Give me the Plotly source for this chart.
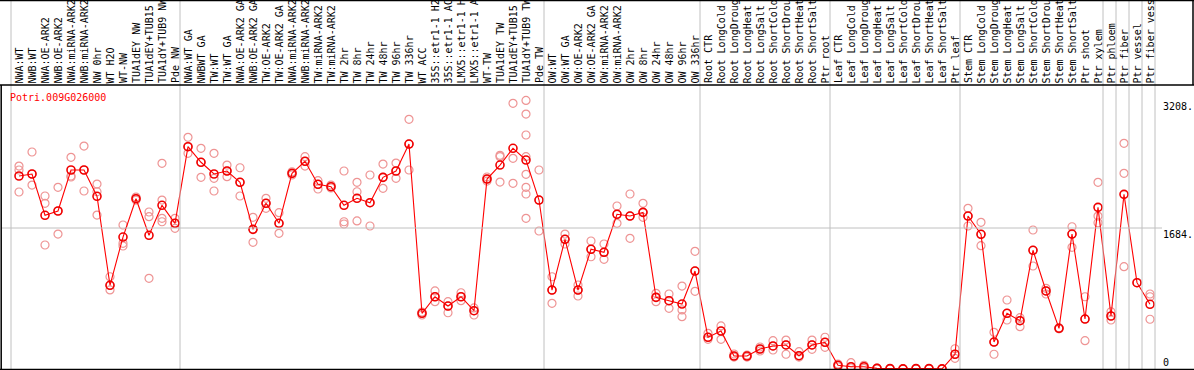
import plotly.graph_objects as go

gene = "Potri.009G026000"

labels = [
    "NWA:WT", "NWB:WT", "NWA:OE-ARK2", "NWB:OE-ARK2", "NWA:miRNA-ARK2", "NWB:miRNA-ARK2",
    "NW 0hr", "WT H2O", "WT-NW", "TUA1dEY NW", "TUA1dEY+TUB15 NW", "TUA1dY+TUB9 NW", "Pde NW",
    "NWA:WT GA", "NWBWT GA", "TW:WT", "TW:WT GA", "NWA:OE-ARK2 GA", "NWB:OE-ARK2 GA",
    "TW:OE-ARK2", "TW:OE-ARK2 GA", "NWA:miRNA-ARK2", "NWB:miRNA-ARK2", "TW:miRNA-ARK2",
    "TW:miRNA-ARK2", "TW 2hr", "TW 8hr", "TW 24hr", "TW 48hr", "TW 96hr", "TW 336hr", "WT ACC",
    "35S::etr1-1 H2O", "35S::etr1-1 ACC", "LMX5::etr1-1 H2O", "LMX5::etr1-1 ACC", "WT-TW",
    "TUA1dEY TW", "TUA1dEY+TUB15 TW", "TUA1dY+TUB9 TW", "Pde TW",
    "OW:WT", "OW:WT GA", "OW:OE-ARK2", "OW:OE-ARK2 GA", "OW:miRNA-ARK2", "OW:miRNA-ARK2",
    "OW 2hr", "OW 8hr", "OW 24hr", "OW 48hr", "OW 96hr", "OW 336hr",
    "Root CTR", "Root LongCold", "Root LongDrought", "Root LongHeat", "Root LongSalt",
    "Root ShortCold", "Root ShortDrought", "Root ShortHeat", "Root ShortSalt", "Ptr root",
    "Leaf CTR", "Leaf LongCold", "Leaf LongDrought", "Leaf LongHeat", "Leaf LongSalt",
    "Leaf ShortCold", "Leaf ShortDrought", "Leaf ShortHeat", "Leaf ShortSalt", "Ptr leaf",
    "Stem CTR", "Stem LongCold", "Stem LongDrought", "Stem LongHeat", "Stem LongSalt",
    "Stem ShortCold", "Stem ShortDrought", "Stem ShortHeat", "Stem ShortSalt", "Ptr shoot",
    "Ptr xylem", "Ptr phloem", "Ptr fiber", "Ptr vessel", "Ptr fiber vessel",
]
label_max_chars = 14  # the header only has room for this many characters

means = [
    2305, 2329, 1836, 1887, 2377, 2377, 2063, 1000, 1576, 2034, 1597, 1955, 1740,
    2655, 2469, 2329, 2365, 2230, 1668, 1979, 1740, 2337, 2481, 2206, 2177, 1955, 2039,
    1986, 2289, 2365, 2687, 665, 863, 752, 863, 696, 2269, 2436, 2636, 2496, 2018,
    943, 1549, 943, 1430, 1394, 1848, 1827, 1871, 856, 816, 776, 1170,
    379, 454, 155, 155, 239, 275, 287, 159, 287, 319,
    44, 27, 27, 8, 4, 1, 4, 4, 1, 176,
    1827, 1609, 322, 665, 577, 1418, 932, 486, 1612, 597,
    1931, 633, 2086, 1031, 773,
]

replicates = [
    [2424, 2377, 2114], [2592, 2329, 2197], [2066, 1979, 1481], [2170, 1887, 1612],
    [2528, 2305, 2293], [2663, 2377, 2126], [2209, 2117, 1839], [1102, 1000, 944],
    [1720, 1501, 1469], [2054, 2034, 2018], [1875, 1819, 1083], [2457, 2018, 1800, 1759],
    [1800, 1740, 1680],
    [2767, 2655, 2576], [2636, 2469, 2289], [2576, 2278, 2126], [2436, 2365, 2297],
    [2404, 2230, 2066], [1812, 1668, 1513], [2039, 1979, 1919], [1867, 1740, 1621],
    [2356, 2337, 2317], [2536, 2481, 2424], [2249, 2206, 2150], [2197, 2177, 2162],
    [2365, 1759, 1732], [2230, 2117, 1768], [2317, 1986, 1708], [2448, 2289, 2158],
    [2460, 2365, 2278], [2982, 2687, 2377], [681, 665, 645], [932, 863, 804],
    [804, 752, 672], [911, 863, 816], [729, 696, 645], [2293, 2269, 2245],
    [2552, 2536, 2233], [3173, 2516, 2218],
    [3208, 3045, 2795, 2536, 2325, 2170, 2090, 1800], [2377, 2018, 1648],
    [1102, 943, 785], [1612, 1549, 1493], [1003, 943, 872], [1529, 1430, 1341],
    [1493, 1394, 1310], [1947, 1848, 1740], [2090, 1827, 1561], [1979, 1871, 1812],
    [904, 856, 804], [896, 816, 725], [991, 705, 625], [1406, 1170, 928],
    [426, 379, 355], [514, 454, 355], [179, 155, 143], [167, 155, 143], [263, 239, 215],
    [338, 275, 227], [346, 287, 176], [207, 159, 143], [346, 287, 235], [379, 319, 259],
    [60, 44, 27], [75, 27, 12], [44, 27, 8], [12, 8, 5], [6, 4, 2], [2, 1, 0],
    [6, 4, 2], [6, 4, 2], [2, 1, 0], [242, 176, 128],
    [1919, 1827, 1708], [1752, 1609, 1473], [438, 322, 176], [824, 665, 585],
    [613, 577, 505], [1660, 1418, 1230], [964, 932, 896], [492, 486, 480],
    [1699, 1612, 1453], [863, 597, 338],
    [2230, 1827, 1747], [684, 633, 585], [2696, 2337, 1222], [1031], [896, 863, 594],
]

group_starts = [0, 13, 41, 53, 63, 73, 84, 85, 86, 87, 88]
axis_vals = [3208, 1684, 0]
axis_text = ["3208.", "1684.", "0"]
grid_val = 1684

W, H = 1194, 370
HEADER_PX = 85
COL0_PX, STEP_PX = 19, 13
Y_LO, Y_HI = -11.94, 4407.3
FONT = "DejaVu Sans Mono"

def py(px):
    return 1 - px / H

def px_x(px):
    return px / W

fig = go.Figure()

rx, ry = [], []
for i, reps in enumerate(replicates):
    rx += [i] * len(reps)
    ry += reps
fig.add_trace(go.Scatter(
    x=rx, y=ry, mode="markers", hoverinfo="skip",
    marker=dict(symbol="circle-open", size=8, color="#EE9494", line=dict(width=1.2)),
))
fig.add_trace(go.Scatter(
    x=list(range(len(means))), y=means, mode="lines+markers",
    line=dict(color="#FF0000", width=1.1),
    marker=dict(symbol="circle-open", size=8, color="#F00000", line=dict(width=1.6)),
))

shapes = []
gl = dict(color="#C0C0C0", width=1)
for g in group_starts:
    shapes.append(dict(type="line", xref="x", yref="paper",
                       x0=g - 8 / STEP_PX, x1=g - 8 / STEP_PX, y0=py(369), y1=1, line=gl))
shapes.append(dict(type="line", xref="paper", yref="y", x0=px_x(1), x1=px_x(1162),
                   y0=grid_val, y1=grid_val, line=gl))
bl = dict(color="black", width=1.5)
shapes += [
    dict(type="line", xref="paper", yref="paper", x0=0, x1=1, y0=py(0.6), y1=py(0.6), line=bl),
    dict(type="line", xref="paper", yref="paper", x0=0, x1=1, y0=py(HEADER_PX), y1=py(HEADER_PX), line=bl),
    dict(type="line", xref="paper", yref="paper", x0=px_x(1193), x1=px_x(1193), y0=py(HEADER_PX), y1=1, line=bl),
    dict(type="line", xref="paper", yref="paper", x0=px_x(1.2), x1=px_x(1.2), y0=py(369.4), y1=py(HEADER_PX), line=bl),
    dict(type="line", xref="paper", yref="paper", x0=0, x1=1, y0=py(369.4), y1=py(369.4), line=bl),
]

annotations = []
for i, lab in enumerate(labels):
    annotations.append(dict(
        x=i, xref="x", y=py(HEADER_PX - 0.5), yref="paper", text=lab[:label_max_chars].rstrip(),
        textangle=-90, xanchor="center", yanchor="bottom", showarrow=False, borderpad=0,
        font=dict(family=FONT, size=10, color="black"),
    ))
annotations.append(dict(
    x=px_x(9), xref="paper", y=py(97), yref="paper", text=gene, xanchor="left",
    yanchor="middle", showarrow=False, borderpad=0,
    font=dict(family=FONT, size=10, color="#FF0000"),
))
for v, t in zip(axis_vals, axis_text):
    annotations.append(dict(
        x=px_x(1162), xref="paper", y=v, yref="y", text=t, xanchor="left",
        yanchor="bottom" if v == 0 else "top", showarrow=False, borderpad=0,
        font=dict(family=FONT, size=10, color="black"),
    ))

fig.update_layout(
    width=W, height=H, margin=dict(l=0, r=0, t=0, b=0, pad=0),
    paper_bgcolor="white", plot_bgcolor="white", showlegend=False,
    xaxis=dict(range=[-COL0_PX / STEP_PX, (W - COL0_PX) / STEP_PX], visible=False, fixedrange=True),
    yaxis=dict(range=[Y_LO, Y_HI], visible=False, fixedrange=True),
    shapes=shapes, annotations=annotations,
)

fig.write_html("out.html", config={"displayModeBar": False},
               post_script="document.body.style.margin='0';document.body.style.overflow='hidden';")
